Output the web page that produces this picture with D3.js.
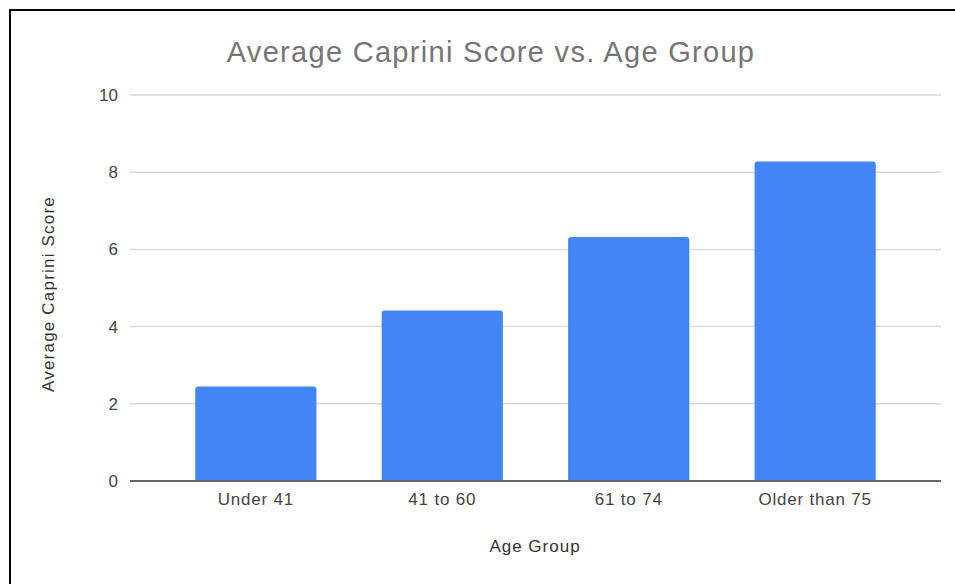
<!DOCTYPE html>
<html lang="en">
<head>
	<meta charset="utf-8">
	<title>Average Caprini Score vs. Age Group</title>
	<script src="https://d3js.org/d3.v7.min.js"></script>
	<style>
	body {margin: 0; background: #fff;}
	svg text {font-family: "Liberation Sans", Arial, sans-serif;}
	</style>
</head>
<body>
<div id="chart"></div>
<script>

// Chart data
var ageGroups = ["Under 41", "41 to 60", "61 to 74", "Older than 75"];
var avgScores = [2.45, 4.42, 6.32, 8.28];
var yTicks = [0, 2, 4, 6, 8, 10];

var width = 955;
var height = 584;

var svg = d3.select("#chart").append("svg")
	.attr("width", width)
	.attr("height", height);

// black frame round the picture
svg.append("rect")
	.attr("x", 10)
	.attr("y", 10)
	.attr("width", 960)
	.attr("height", 600)
	.attr("fill", "none")
	.attr("stroke", "#000")
	.attr("stroke-width", 2);

var plotLeft = 130, plotRight = 941, plotTop = 95, plotBottom = 481;

var x = d3.scaleBand()
	.domain(ageGroups)
	.range([plotLeft, plotRight])
	.paddingInner(0.35)
	.paddingOuter(0.35);

var y = d3.scaleLinear()
	.domain([0, 10])
	.range([plotBottom, plotTop]);

// grid lines
svg.append("g")
	.selectAll("line")
	.data(yTicks.slice(1))
	.enter()
	.append("line")
		.attr("x1", plotLeft)
		.attr("x2", plotRight)
		.attr("y1", function(d){return y(d);})
		.attr("y2", function(d){return y(d);})
		.attr("stroke", "#d9d9d9")
		.attr("stroke-width", 1.5);

// y axis labels
var yAxis = d3.axisLeft(y)
	.tickValues(yTicks)
	.tickSize(0)
	.tickPadding(12);

svg.append("g")
	.attr("transform", "translate(" + plotLeft + ",0)")
	.call(yAxis)
	.call(function(g){g.select(".domain").remove();})
	.selectAll("text")
		.attr("fill", "#444")
		.style("font-size", "17px");

// bars with rounded tops
svg.append("g")
	.selectAll("path")
	.data(avgScores)
	.enter()
	.append("path")
		.attr("fill", "#4285f4")
		.attr("d", function(d, i){
			var x0 = x(ageGroups[i]), w = x.bandwidth();
			var y0 = y(d), r = 3;
			return "M" + x0 + "," + y(0) +
				"V" + (y0 + r) +
				"Q" + x0 + "," + y0 + " " + (x0 + r) + "," + y0 +
				"H" + (x0 + w - r) +
				"Q" + (x0 + w) + "," + y0 + " " + (x0 + w) + "," + (y0 + r) +
				"V" + y(0) + "Z";
		});

// x axis
var xAxis = d3.axisBottom(x)
	.tickSize(0)
	.tickPadding(12);

svg.append("g")
	.attr("transform", "translate(0," + plotBottom + ")")
	.call(xAxis)
	.call(function(g){g.select(".domain").remove();})
	.selectAll("text")
		.attr("fill", "#444")
		.style("font-size", "17px")
		.style("letter-spacing", "0.8px");

svg.append("line")
	.attr("x1", plotLeft)
	.attr("x2", plotRight)
	.attr("y1", plotBottom)
	.attr("y2", plotBottom)
	.attr("stroke", "#666")
	.attr("stroke-width", 2);

// title and axis titles
svg.append("text")
	.attr("x", 491)
	.attr("y", 62)
	.attr("text-anchor", "middle")
	.attr("fill", "#757575")
	.style("font-size", "29px")
	.style("letter-spacing", "1.3px")
	.text("Average Caprini Score vs. Age Group");

svg.append("text")
	.attr("x", 535)
	.attr("y", 552)
	.attr("text-anchor", "middle")
	.attr("fill", "#333")
	.style("font-size", "17px")
	.style("letter-spacing", "1px")
	.text("Age Group");

svg.append("text")
	.attr("transform", "translate(54,294) rotate(-90)")
	.attr("text-anchor", "middle")
	.attr("fill", "#333")
	.style("font-size", "17px")
	.style("letter-spacing", "1.2px")
	.text("Average Caprini Score");

</script>
</body>
</html>
